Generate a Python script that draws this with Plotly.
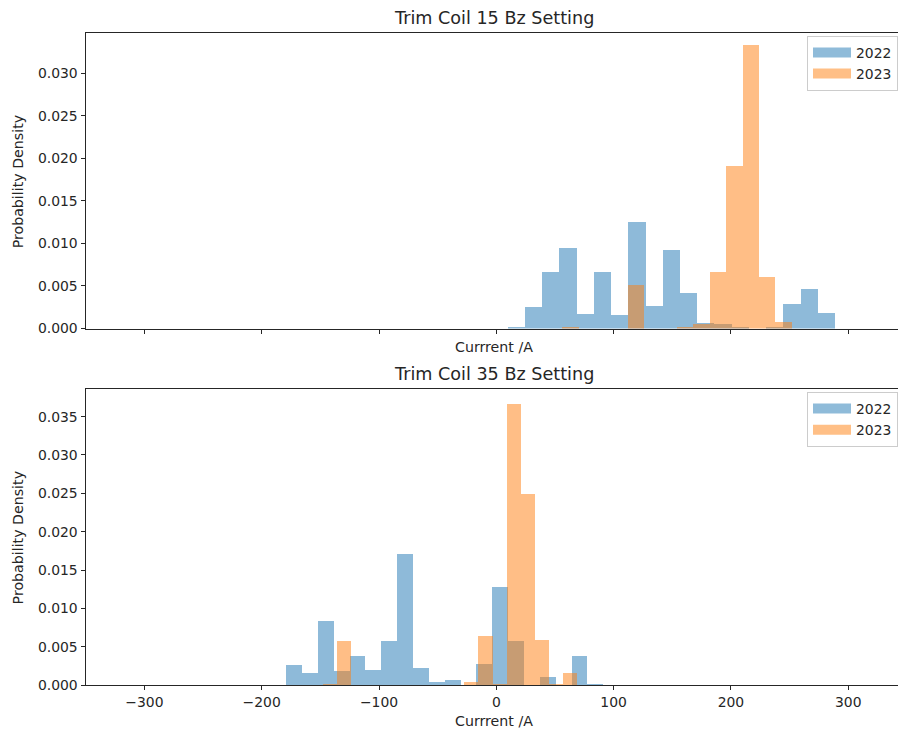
import plotly.graph_objects as go

# ---------------- data ----------------
years = ["2022", "2023"]

# Top panel: Trim Coil 15
tc15_2022_start = 9.4
tc15_2022_width = 14.68
tc15_2022_density = [0.0001, 0.0025, 0.0067, 0.0095, 0.0017, 0.0067, 0.0016, 0.01255,
                     0.0027, 0.0092, 0.0042, 0.0007, 0.0005, 0.0001, 0.0, 0.0002,
                     0.0029, 0.0046, 0.0018]

tc15_2023_start = 55.8
tc15_2023_width = 13.97
tc15_2023_density = [0.00015, 0.0, 0.0, 0.0, 0.0051, 0.0, 0.0, 0.0001, 0.0005,
                     0.0066, 0.01905, 0.0333, 0.0060, 0.0008]

# Bottom panel: Trim Coil 35
tc35_2022_start = -179.5
tc35_2022_width = 13.51
tc35_2022_density = [0.0026, 0.00158, 0.0083, 0.0018, 0.0038, 0.0020, 0.0058, 0.0171,
                     0.0022, 0.00035, 0.00065, 0.0, 0.0027, 0.0128, 0.0057, 0.0,
                     0.0011, 0.0, 0.0038, 0.0001]

tc35_2023_start = -148.0
tc35_2023_width = 12.03
tc35_2023_density = [0.0001, 0.0057, 0.0, 0.0, 0.0, 0.0, 0.0, 0.0, 0.0, 0.0,
                     0.00035, 0.0064, 0.0002, 0.0367, 0.0249, 0.0059, 0.0001, 0.0016]

x_ticks = [-300, -200, -100, 0, 100, 200, 300]
y_ticks_top = [0.000, 0.005, 0.010, 0.015, 0.020, 0.025, 0.030]
y_ticks_bottom = [0.000, 0.005, 0.010, 0.015, 0.020, 0.025, 0.030, 0.035]

titles = ["Trim Coil 15 Bz Setting", "Trim Coil 35 Bz Setting"]
x_label = "Currrent /A"
y_label = "Probability Density"

# ---------------- styling ----------------
W = 898
H = 742          # layout height (the page is rendered slightly squeezed vertically)
S = 0.989        # observed vertical render scale
FONT = "DejaVu Sans"
TXT = "#262626"
colors = ["#1f77b4", "#ff7f0e"]
legend_colors = ["rgba(31,119,180,0.5)", "rgba(255,127,14,0.5)"]

def centers(start, width, n):
    return [start + width * (i + 0.5) for i in range(n)]

fig = go.Figure()

panels = [
    ((tc15_2022_start, tc15_2022_width, tc15_2022_density),
     (tc15_2023_start, tc15_2023_width, tc15_2023_density), "x", "y", "legend"),
    ((tc35_2022_start, tc35_2022_width, tc35_2022_density),
     (tc35_2023_start, tc35_2023_width, tc35_2023_density), "x2", "y2", "legend2"),
]

for series_a, series_b, xa, ya, lg in panels:
    for (start, width, dens), name, col, lcol in zip((series_a, series_b), years, colors, legend_colors):
        fig.add_trace(go.Bar(
            x=centers(start, width, len(dens)), y=dens, width=width,
            name=name, marker=dict(color=col, line=dict(width=0)),
            opacity=0.5, xaxis=xa, yaxis=ya, showlegend=False,
        ))
        # legend-only entry drawn as a wide patch (like matplotlib's legend handle)
        fig.add_trace(go.Scatter(
            x=[None], y=[None], mode="lines", name=name,
            line=dict(color=lcol, width=10), xaxis=xa, yaxis=ya,
            legend=lg, showlegend=True, hoverinfo="skip",
        ))

left_px = 85.5
top1, bot1 = 33.0, 328.5
top2, bot2 = 389.0, 685.0
x_range = [(left_px - 496.3) / 1.173, (W - 496.3) / 1.173]

def fy(px):
    return (H - px / S) / H

axis_common = dict(
    showline=True, linecolor="#262626", linewidth=1, ticks="outside", ticklen=4,
    tickcolor="#262626", tickwidth=1, showgrid=False, zeroline=False,
    tickfont=dict(family=FONT, size=13.9, color=TXT),
)

legend_common = dict(
    x=1.0, xanchor="right", yanchor="top",
    bgcolor="rgba(255,255,255,0.8)", bordercolor="#cccccc", borderwidth=1,
    font=dict(family=FONT, size=13.9, color=TXT), tracegroupgap=0, itemwidth=38,
)

fig.update_layout(
    width=W, height=H, margin=dict(l=0, r=0, t=0, b=0), autosize=False,
    paper_bgcolor="white", plot_bgcolor="white",
    barmode="overlay", bargap=0,
    font=dict(family=FONT, size=13.9, color=TXT),
    xaxis=dict(domain=[left_px / W, 1.0], range=x_range, tickvals=x_ticks,
               showticklabels=False, mirror=True, anchor="y", matches="x2", **axis_common),
    yaxis=dict(domain=[fy(bot1), fy(top1)], range=[0, 0.0347], tickvals=y_ticks_top,
               tickformat=".3f", anchor="x", **axis_common),
    xaxis2=dict(domain=[left_px / W, 1.0], range=x_range, tickvals=x_ticks,
                mirror=True, anchor="y2", **axis_common),
    yaxis2=dict(domain=[fy(bot2), fy(top2)], range=[0, 0.03859], tickvals=y_ticks_bottom,
                tickformat=".3f", anchor="x2", **axis_common),
    legend=dict(y=fy(36.0), **legend_common),
    legend2=dict(y=fy(392.0), **legend_common),
)

center_x = 494.0 / W
annotations = [
    dict(text=titles[0], x=center_x, y=fy(18), xref="paper", yref="paper",
         showarrow=False, font=dict(family=FONT, size=17.6, color=TXT),
         xanchor="center", yanchor="middle"),
    dict(text=titles[1], x=center_x, y=fy(374), xref="paper", yref="paper",
         showarrow=False, font=dict(family=FONT, size=17.6, color=TXT),
         xanchor="center", yanchor="middle"),
    dict(text=x_label, x=center_x, y=fy(347), xref="paper", yref="paper",
         showarrow=False, font=dict(family=FONT, size=14.2, color=TXT),
         xanchor="center", yanchor="middle"),
    dict(text=x_label, x=center_x, y=fy(721), xref="paper", yref="paper",
         showarrow=False, font=dict(family=FONT, size=14.2, color=TXT),
         xanchor="center", yanchor="middle"),
    dict(text=y_label, x=18.3 / W, y=fy(182), xref="paper", yref="paper",
         showarrow=False, textangle=-90, font=dict(family=FONT, size=14.2, color=TXT),
         xanchor="center", yanchor="middle"),
    dict(text=y_label, x=18.3 / W, y=fy(538), xref="paper", yref="paper",
         showarrow=False, textangle=-90, font=dict(family=FONT, size=14.2, color=TXT),
         xanchor="center", yanchor="middle"),
]
fig.update_layout(annotations=annotations)

fig.write_html("out.html", config={"responsive": False})
